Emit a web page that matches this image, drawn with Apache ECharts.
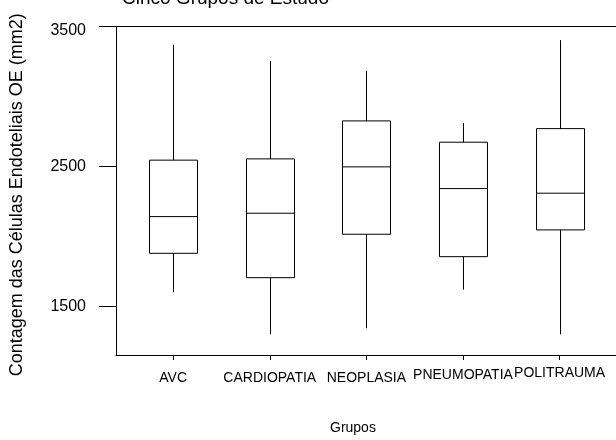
<!DOCTYPE html>
<html><head><meta charset="utf-8">
<script src="https://cdn.jsdelivr.net/npm/echarts@6/dist/echarts.min.js"></script>
<style>html,body{margin:0;padding:0;background:#fff}#c{width:616px;height:440px}</style>
</head><body><div id="c"></div>
<script>
const categories = ['AVC', 'CARDIOPATIA', 'NEOPLASIA', 'PNEUMOPATIA', 'POLITRAUMA'];
const whiskerLow = [1603, 1303, 1346, 1621, 1303];
const q1 = [1881, 1707, 2017, 1857, 2048];
const median = [2143, 2167, 2498, 2343, 2310];
const q3 = [2546, 2555, 2826, 2674, 2771];
const whiskerHigh = [3369, 3253, 3184, 2810, 3403];
const yTicks = [1500, 2500, 3500];

const FONT = '"Liberation Sans", Arial, sans-serif';
const data = categories.map((c, i) => [i, whiskerLow[i], q1[i], median[i], q3[i], whiskerHigh[i]]);
const labelStyle = ['p5', 'p5', 'p5', 'p2', 'p0'];

const chart = echarts.init(document.getElementById('c'));
chart.setOption({
  animation: false,
  backgroundColor: '#fff',
  graphic: [
    {type: 'text', left: 122, top: -11, style: {text: 'Cinco Grupos de Estudo', font: '19px ' + FONT, fill: '#000'}},
    {type: 'text', left: 330, top: 421, style: {text: 'Grupos', font: '14px ' + FONT, fill: '#000'}}
  ],
  grid: {left: 115, right: 0, top: 26.5, bottom: 85, containLabel: false},
  xAxis: [{
    type: 'value', min: -0.592, max: 4.584, position: 'bottom',
    splitLine: {show: false},
    axisLine: {show: true, onZero: false, lineStyle: {color: '#000', width: 1}},
    axisTick: {show: true, length: 5, lineStyle: {color: '#000'}, customValues: [0, 1, 2, 3, 4]},
    axisLabel: {show: true, margin: 11, fontSize: 14, fontFamily: FONT, color: '#000',
      customValues: [0, 1, 2, 3, 4],
      formatter: v => { const i = Math.round(v); return categories[i] ? '{' + labelStyle[i] + '|' + categories[i] + '}' : ''; },
      rich: {
        p5: {padding: [5, 0, 0, 0], fontSize: 14, fontFamily: FONT, color: '#000'},
        p2: {padding: [2, 0, 0, 0], fontSize: 14, fontFamily: FONT, color: '#000'},
        p0: {padding: [0, 0, 0, 0], fontSize: 14, fontFamily: FONT, color: '#000'}
      }}
  }, {
    type: 'value', min: -0.592, max: 4.584, position: 'top',
    splitLine: {show: false},
    axisLine: {show: true, onZero: false, lineStyle: {color: '#000', width: 1}},
    axisTick: {show: false}, axisLabel: {show: false}
  }],
  yAxis: {
    type: 'value', min: 1155, max: 3500,
    splitLine: {show: false},
    axisLine: {show: true, onZero: false, lineStyle: {color: '#000', width: 1}},
    axisTick: {show: true, length: 17, lineStyle: {color: '#000'}, customValues: yTicks},
    axisLabel: {show: true, margin: 30, fontSize: 16, fontFamily: FONT, color: '#000', customValues: yTicks,
      formatter: v => v === 3500 ? '{t|' + v + '}' : '{n|' + v + '}',
      rich: {
        t: {padding: [8, 0, 0, 0], fontSize: 16, fontFamily: FONT, color: '#000'},
        n: {fontSize: 16, fontFamily: FONT, color: '#000'}
      }},
    name: 'Contagem das Células Endoteliais OE (mm2)',
    nameLocation: 'middle', nameGap: 90, nameRotate: 90,
    nameTextStyle: {fontSize: 18, fontFamily: FONT, color: '#000', padding: [0, 8, 0, 0]}
  },
  series: [{
    type: 'custom',
    data: data,
    encode: {x: 0, y: [1, 2, 3, 4, 5]},
    renderItem: function (params, api) {
      const x = api.value(0);
      const pLow = api.coord([x, api.value(1)]);
      const pQ1 = api.coord([x, api.value(2)]);
      const pMed = api.coord([x, api.value(3)]);
      const pQ3 = api.coord([x, api.value(4)]);
      const pHigh = api.coord([x, api.value(5)]);
      const half = 24;
      const cx = Math.round(pLow[0]) + 0.5;
      const st = {stroke: '#000', lineWidth: 1, fill: null};
      return {
        type: 'group',
        children: [
          {type: 'line', shape: {x1: cx, y1: pHigh[1], x2: cx, y2: pQ3[1]}, style: st},
          {type: 'line', shape: {x1: cx, y1: pQ1[1], x2: cx, y2: pLow[1]}, style: st},
          {type: 'rect', shape: {x: cx - half, y: pQ3[1], width: 2 * half, height: pQ1[1] - pQ3[1]}, style: {stroke: '#000', lineWidth: 1, fill: 'none'}},
          {type: 'line', shape: {x1: cx - half, y1: pMed[1], x2: cx + half, y2: pMed[1]}, style: st}
        ]
      };
    }
  }]
});
</script></body></html>
